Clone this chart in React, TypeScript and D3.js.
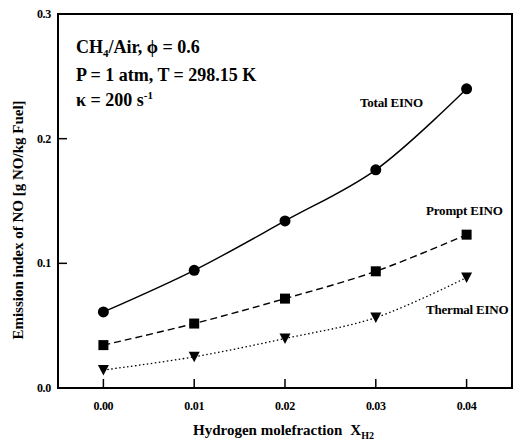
import React, { useEffect, useRef } from "react";
import * as d3 from "d3";

const xValues = [0.0, 0.01, 0.02, 0.03, 0.04];
const totalEINO = [0.061, 0.0944, 0.134, 0.175, 0.24];
const promptEINO = [0.0344, 0.0517, 0.0717, 0.0936, 0.123];
const thermalEINO = [0.0144, 0.025, 0.0397, 0.0565, 0.0886];
const xTicks = [0.0, 0.01, 0.02, 0.03, 0.04];
const yTicks = [0.0, 0.1, 0.2, 0.3];

const W = 515;
const H = 448;
const FONT = "Liberation Serif, DejaVu Serif, Times New Roman, serif";

export default function App() {
  const ref = useRef<SVGSVGElement | null>(null);

  useEffect(() => {
    const svg = d3.select(ref.current);
    svg.selectAll("*").remove();
    const left = 58, right = 512, top = 14, bottom = 388;
    const x = d3.scaleLinear().domain([-0.005, 0.045]).range([left, right]);
    const y = d3.scaleLinear().domain([0, 0.3]).range([bottom, top]);

    svg.append("rect").attr("width", W).attr("height", H).attr("fill", "#fff");

    svg.append("rect")
      .attr("x", left).attr("y", top)
      .attr("width", right - left).attr("height", bottom - top)
      .attr("fill", "none").attr("stroke", "#000").attr("stroke-width", 2);

    const gx = svg.append("g");
    xTicks.forEach((t) => {
      gx.append("line")
        .attr("x1", x(t)).attr("x2", x(t))
        .attr("y1", bottom).attr("y2", bottom - 9)
        .attr("stroke", "#000").attr("stroke-width", 1.5);
      gx.append("text")
        .attr("x", x(t)).attr("y", 410)
        .attr("text-anchor", "middle")
        .style("font-family", FONT).style("font-weight", "bold")
        .style("font-size", "12px").style("letter-spacing", "-0.3px")
        .text(d3.format(".2f")(t));
    });

    const gy = svg.append("g");
    yTicks.forEach((t) => {
      gy.append("line")
        .attr("x1", left).attr("x2", left + 9)
        .attr("y1", y(t)).attr("y2", y(t))
        .attr("stroke", "#000").attr("stroke-width", 1.5);
      gy.append("text")
        .attr("x", 51).attr("y", y(t) + 4)
        .attr("text-anchor", "end")
        .style("font-family", FONT).style("font-weight", "bold")
        .style("font-size", "12px").style("letter-spacing", "-0.3px")
        .text(d3.format(".1f")(t));
    });

    svg.append("text")
      .attr("transform", `translate(23,220) rotate(-90)`)
      .attr("text-anchor", "middle")
      .style("font-family", FONT).style("font-weight", "bold")
      .style("font-size", "15px")
      .text("Emission index of NO [g NO/kg Fuel]");

    const xl = svg.append("text")
      .attr("x", 193).attr("y", 435)
      .style("font-family", FONT).style("font-weight", "bold")
      .style("font-size", "15px");
    xl.append("tspan").text("Hydrogen molefraction");
    xl.append("tspan").attr("dx", 8).text("X");
    xl.append("tspan").style("font-size", "10px").attr("dy", 4).text("H2");

    const series = [
      { data: totalEINO, dash: null as string | null, marker: "circle" },
      { data: promptEINO, dash: "7,4", marker: "square" },
      { data: thermalEINO, dash: "1.5,2.5", marker: "triangle" },
    ];
    const line = d3.line<number>()
      .x((_, i) => x(xValues[i]))
      .y((d) => y(d))
      .curve(d3.curveCatmullRom.alpha(0.5));

    series.forEach((s) => {
      const p = svg.append("path")
        .attr("d", line(s.data))
        .attr("fill", "none").attr("stroke", "#000")
        .attr("stroke-width", s.marker === "triangle" ? 1.3 : 1.4);
      if (s.dash) p.attr("stroke-dasharray", s.dash);
      s.data.forEach((v, i) => {
        const cx = x(xValues[i]);
        const cy = y(v);
        if (s.marker === "circle") {
          svg.append("circle").attr("cx", cx).attr("cy", cy).attr("r", 5.5).attr("fill", "#000");
        } else if (s.marker === "square") {
          svg.append("rect").attr("x", cx - 5).attr("y", cy - 5)
            .attr("width", 10).attr("height", 10).attr("fill", "#000");
        } else {
          svg.append("path")
            .attr("d", `M${cx - 5.5},${cy - 5} L${cx + 5.5},${cy - 5} L${cx},${cy + 5.5} Z`)
            .attr("fill", "#000");
        }
      });
    });

    const lab = (txt: string, xx: number, yy: number) =>
      svg.append("text").attr("x", xx).attr("y", yy)
        .style("font-family", FONT).style("font-weight", "bold")
        .style("font-size", "13px").style("letter-spacing", "-0.2px")
        .text(txt);
    lab("Total EINO", 360, 107);
    lab("Prompt EINO", 426, 215);
    lab("Thermal EINO", 426, 314);

    const ann = svg.append("g")
      .style("font-family", FONT).style("font-weight", "bold")
      .style("font-size", "18px");
    const t1 = ann.append("text").attr("x", 76).attr("y", 53);
    t1.append("tspan").text("CH");
    t1.append("tspan").style("font-size", "11px").attr("dy", 4).text("4");
    t1.append("tspan").attr("dy", -4).text("/Air, \u03d5 = 0.6");
    ann.append("text").attr("x", 76).attr("y", 81).text("P = 1 atm, T = 298.15 K");
    const t3 = ann.append("text").attr("x", 76).attr("y", 106);
    t3.append("tspan").text("\u03ba = 200 s");
    t3.append("tspan").style("font-size", "11px").attr("dy", -7).text("-1");
  }, []);

  return (
    <svg
      ref={ref}
      width={W}
      height={H}
      style={{ position: "absolute", left: 0, top: 0 }}
    />
  );
}
